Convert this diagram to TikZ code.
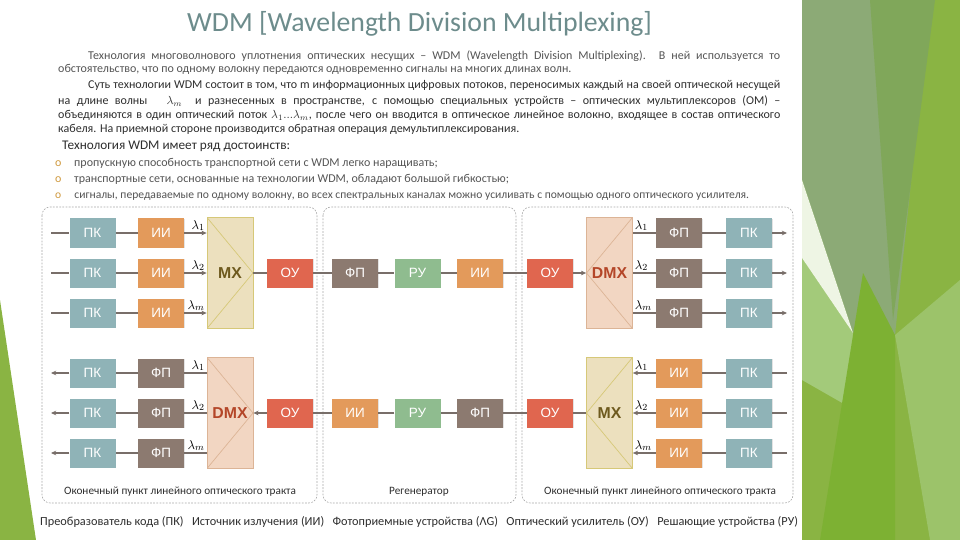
\documentclass[tikz,border=0pt]{standalone}
\usepackage{fontspec}
\setmainfont{Carlito}
\newfontfamily\unitfont{Liberation Sans}
\usetikzlibrary{arrows.meta, shadows}

\definecolor{pkfill}{HTML}{8FB3B7}
\definecolor{iifill}{HTML}{E39A5B}
\definecolor{fpfill}{HTML}{8C7A70}
\definecolor{rufill}{HTML}{8FBC8F}
\definecolor{oufill}{HTML}{E0664F}
\definecolor{mxfill}{HTML}{ECE0BE}
\definecolor{mxline}{HTML}{D6C878}
\definecolor{mxtext}{HTML}{6E5A1E}
\definecolor{dmxfill}{HTML}{F2D6C2}
\definecolor{dmxline}{HTML}{DCB496}
\definecolor{dmxtext}{HTML}{B44628}
\definecolor{fibre}{HTML}{786E69}
\definecolor{frame}{HTML}{A8A8A8}
\definecolor{titlecol}{HTML}{6D8C8C}
\definecolor{bodycol}{HTML}{2E2E2E}
\definecolor{lightcol}{HTML}{555555}
\definecolor{bulcol}{HTML}{D09A40}
\definecolor{leafbase}{HTML}{8AB443}
\definecolor{leafgrey}{HTML}{8CAA76}
\definecolor{leafdark}{HTML}{80A75A}
\definecolor{leaflight}{HTML}{A3CA7A}
\definecolor{leafdeep}{HTML}{7DB133}
\definecolor{leafpale}{HTML}{EEF5E4}

\begin{document}
\begin{tikzpicture}[x=0.03cm, y=-0.03cm,
  unit/.style={rectangle, minimum width=1.38cm, minimum height=0.87cm, inner sep=0pt, text=white, font=\unitfont\fontsize{11.5}{12}\selectfont, drop shadow={opacity=0.22, shadow xshift=0.8pt, shadow yshift=-0.8pt}},
  pk/.style={unit, fill=pkfill},
  ii/.style={unit, fill=iifill},
  fp/.style={unit, fill=fpfill},
  ru/.style={unit, fill=rufill},
  ou/.style={unit, fill=oufill},
  mux/.style={rectangle, minimum width=1.38cm, minimum height=3.33cm, inner sep=0pt, line width=0.6pt, font=\unitfont\bfseries\fontsize{13.5}{14}\selectfont},
  mx/.style={mux, fill=mxfill, draw=mxline, text=mxtext},
  dmx/.style={mux, fill=dmxfill, draw=dmxline, text=dmxtext},
  apexright/.style={path picture={\draw[#1, line width=0.6pt] (path picture bounding box.north west) -- (path picture bounding box.east) -- (path picture bounding box.south west);}},
  apexleft/.style={path picture={\draw[#1, line width=0.6pt] (path picture bounding box.north east) -- (path picture bounding box.west) -- (path picture bounding box.south east);}},
  fibreline/.style={draw=fibre, line width=1.5pt},
  fibrearrow/.style={fibreline, -{Stealth[length=4.5pt, width=4pt]}},
  lam/.style={inner sep=1pt, font=\fontsize{11}{12}\selectfont},
  site/.style={draw=frame, rounded corners=7pt, line width=0.5pt, dash pattern=on 1.5pt off 1.2pt},
  sitename/.style={inner sep=0pt, text=bodycol, font=\fontsize{9.6}{10}\selectfont},
  bodyline/.style={anchor=base west, inner sep=0pt, text=bodycol, font=\fontsize{10.25}{11}\selectfont}]

  \useasboundingbox (0,0) rectangle (960,540);
  % slide background
  \fill[white] (0,0) rectangle (960,540);
  \fill[leafbase] (802,0) rectangle (960,540);
  \fill[leafgrey] (735,0) -- (930,0) -- (895,335) -- (853,333) -- (802,180) -- (802,0) -- cycle;
  \fill[leafdark] (870,0) -- (935,0) -- (893,320) -- cycle;
  \fill[leaflight] (802,258) -- (853,333) -- (872,420) -- (802,380) -- cycle;
  \fill[leafdeep] (863,273) -- (895,335) -- (895,540) -- (820,540) -- cycle;
  \fill[leaflight!70!leafbase] (895,335) -- (960,280) -- (960,540) -- (930,540) -- cycle;
  \fill[leafpale] (802,180) -- (853,333) -- (802,258) -- cycle;
  \fill[white] (0,10) rectangle (802,540);
  \fill[leafbase] (0,300) -- (36,540) -- (0,540) -- cycle;

  % title and text
  \node[anchor=base west, inner sep=0pt, text=titlecol, font=\fontsize{23.7}{26}\selectfont] (title) at (187,32) {WDM [Wavelength Division Multiplexing]};
  \node[bodyline, text=lightcol] (t1) at (88,60) {\makebox[20.76cm][s]{Технология многоволнового уплотнения оптических несущих – WDM (Wavelength Division Multiplexing). В ней используется то}};
  \node[bodyline, text=lightcol] (t2) at (58,73) {обстоятельство, что по одному волокну передаются одновременно сигналы на многих длинах волн.};
  \node[bodyline] (t3) at (88,89) {\makebox[20.76cm][s]{Суть технологии WDM состоит в том, что m информационных цифровых потоков, переносимых каждый на своей оптической несущей}};
  \node[bodyline] (t4) at (58,105) {\makebox[21.66cm][s]{на длине волны \ \ $\lambda_m$ \ и разнесенных в пространстве, с помощью специальных устройств – оптических мультиплексоров (ОМ) –}};
  \node[bodyline] (t5) at (58,119) {\makebox[21.66cm][s]{объединяются в один оптический поток $\lambda_1...\lambda_m$, после чего он вводится в оптическое линейное волокно, входящее в состав оптического}};
  \node[bodyline] (t6) at (58,133) {кабеля. На приемной стороне производится обратная операция демультиплексирования.};
  \node[bodyline, font=\fontsize{11.3}{12}\selectfont] (t7) at (62,150) {Технология WDM имеет ряд достоинств:};
  \node[bodyline, text=lightcol] (t8) at (55,167) {\textcolor{bulcol}{o}\hspace{0.38cm}пропускную способность транспортной сети с WDM легко наращивать;};
  \node[bodyline, text=lightcol] (t9) at (55,183) {\textcolor{bulcol}{o}\hspace{0.38cm}транспортные сети, основанные на технологии WDM, обладают большой гибкостью;};
  \node[bodyline, text=lightcol, font=\fontsize{9.9}{11}\selectfont] (t10) at (55,199) {\textcolor{bulcol}{o}\hspace{0.39cm}сигналы, передаваемые по одному волокну, во всех спектральных каналах можно усиливать с помощью одного оптического усилителя.};

  % sites of the line
  \draw[site] (42,207) rectangle (317,503);
  \draw[site] (323,207) rectangle (516,503);
  \draw[site] (522,207) rectangle (793,503);
  \node[sitename] (endA) at (180,492) {Оконечный пункт линейного оптического тракта};
  \node[sitename] (regen) at (419,492) {Регенератор};
  \node[sitename] (endB) at (660,492) {Оконечный пункт линейного оптического тракта};

  % multiplexers
  \node[mx, apexright=mxline] (mxA) at (230,273) {MX};
  \node[dmx, apexleft=dmxline] (dmxA) at (609.5,273) {DMX};
  \node[dmx, apexright=dmxline] (dmxB) at (230,413) {DMX};
  \node[mx, apexleft=mxline] (mxB) at (609.5,413) {MX};

  % forward direction
  \node[ou] (ouA) at (290,273) {ОУ};
  \node[fp] (fpM) at (355,273) {ФП};
  \node[ru] (ruM) at (417.5,273) {РУ};
  \node[ii] (iiM) at (480,273) {ИИ};
  \node[ou] (ouB) at (550,273) {ОУ};
  \draw[fibreline] (mxA) -- (ouA);
  \draw[fibreline] (ouA) -- (fpM) -- (ruM) -- (iiM) -- (ouB);
  \draw[fibrearrow] (ouB) -- (dmxA);
  \foreach \r/\y/\lab in {1/233/1, 2/273/2, 3/313/m}{
    \coordinate (srcA\r) at (51,\y);
    \node[pk] (pkA\r) at (92.5,\y) {ПК};
    \node[ii] (iiA\r) at (161,\y) {ИИ};
    \node[fp] (fpC\r) at (679,\y) {ФП};
    \node[pk] (pkC\r) at (749,\y) {ПК};
    \coordinate (dstC\r) at (787,\y);
    \draw[fibreline] (srcA\r) -- (pkA\r);
    \draw[fibreline] (pkA\r) -- (iiA\r);
    \draw[fibrearrow] (iiA\r) -- (mxA.west |- iiA\r) node[lam, above left] {$\lambda_{\lab}$};
    \draw[fibreline] (dmxA.east |- fpC\r) node[lam, above right] {$\lambda_{\lab}$} -- (fpC\r);
    \draw[fibreline] (fpC\r) -- (pkC\r);
    \draw[fibrearrow] (pkC\r) -- (dstC\r);
  }

  % backward direction
  \node[ou] (ouC) at (290,413) {ОУ};
  \node[ii] (iiN) at (355,413) {ИИ};
  \node[ru] (ruN) at (417.5,413) {РУ};
  \node[fp] (fpN) at (480,413) {ФП};
  \node[ou] (ouD) at (550,413) {ОУ};
  \draw[fibreline] (mxB) -- (ouD);
  \draw[fibreline] (ouD) -- (fpN) -- (ruN) -- (iiN) -- (ouC);
  \draw[fibrearrow] (ouC) -- (dmxB);
  \foreach \r/\y/\lab in {1/373/1, 2/413/2, 3/453/m}{
    \coordinate (dstB\r) at (51,\y);
    \node[pk] (pkB\r) at (92.5,\y) {ПК};
    \node[fp] (fpB\r) at (161,\y) {ФП};
    \node[ii] (iiD\r) at (679,\y) {ИИ};
    \node[pk] (pkD\r) at (749,\y) {ПК};
    \coordinate (srcD\r) at (787,\y);
    \draw[fibrearrow] (pkB\r) -- (dstB\r);
    \draw[fibreline] (fpB\r) -- (pkB\r);
    \draw[fibreline] (dmxB.west |- fpB\r) node[lam, above left] {$\lambda_{\lab}$} -- (fpB\r);
    \draw[fibrearrow] (iiD\r) -- (mxB.east |- iiD\r) node[lam, above right] {$\lambda_{\lab}$};
    \draw[fibreline] (pkD\r) -- (iiD\r);
    \draw[fibreline] (srcD\r) -- (pkD\r);
  }

  % legend
  \node[bodyline, font=\fontsize{10.5}{11}\selectfont] (legend) at (40,525) {Преобразователь кода (ПК) \ \ Источник излучения (ИИ) \ \ Фотоприемные устройства (ΛG) \ \ Оптический усилитель (ОУ) \ \ Решающие устройства (РУ)};
\end{tikzpicture}
\end{document}
